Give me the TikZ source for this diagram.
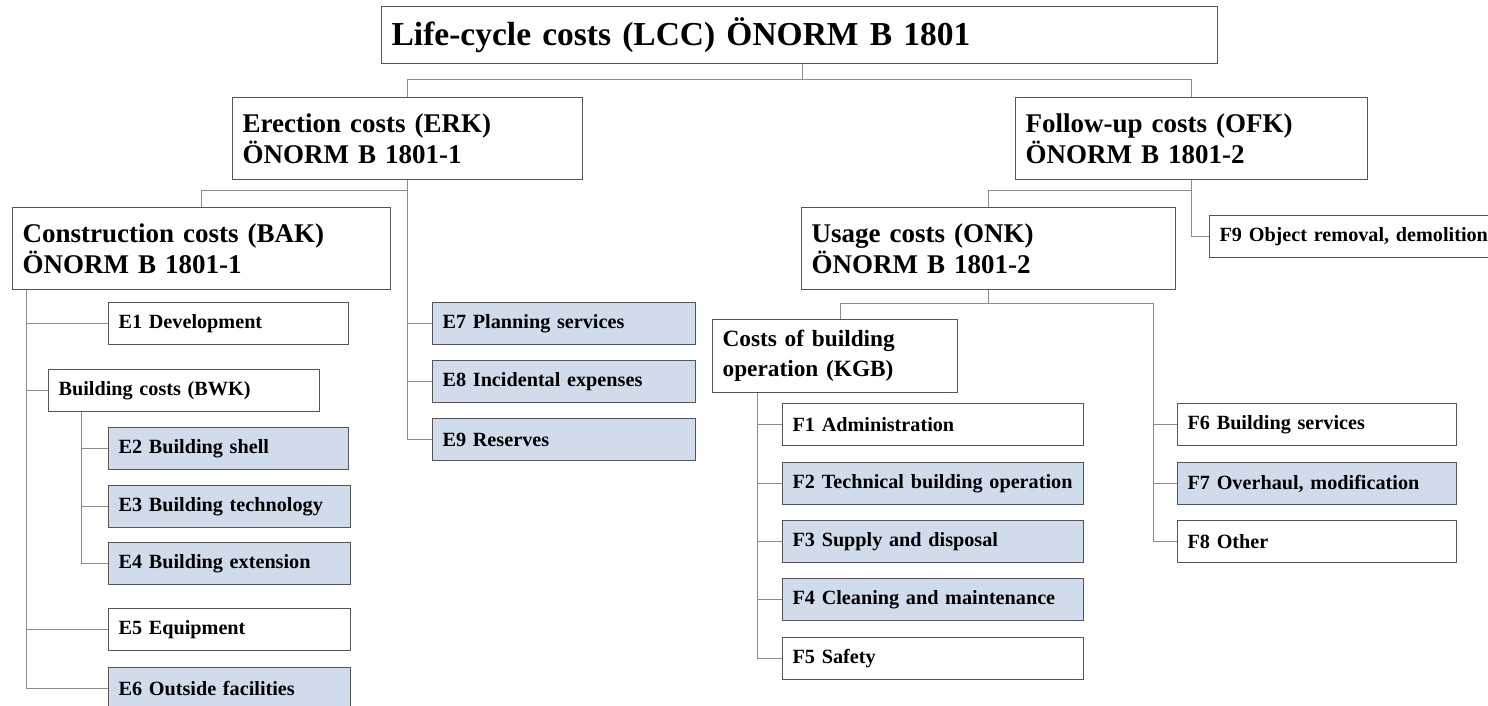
\documentclass[tikz,border=0pt]{standalone}
\usepackage{fontspec}
\setmainfont{Liberation Serif}
\usepackage{tikz}
\definecolor{boxline}{RGB}{88,84,84}
\definecolor{linkgray}{RGB}{140,140,140}
\definecolor{leafblue}{RGB}{208,220,236}
\newcommand\topfont{\fontsize{33.5}{40}\selectfont\bfseries}
\newcommand\midfont{\fontsize{27}{31}\selectfont\bfseries}
\newcommand\kgbfont{\fontsize{23.3}{30}\selectfont\bfseries}
\newcommand\leaffont{\fontsize{20.2}{24}\selectfont\bfseries}
\tikzset{
  box/.style={draw=boxline,line width=1.2pt,fill=white,anchor=north west,
              inner xsep=10pt,inner ysep=0pt,align=left},
  leaf/.style={box,font=\leaffont,minimum height=42pt},
  blue/.style={fill=leafblue},
  link/.style={draw=linkgray,line width=0.9pt}
}

\begin{document}
\begin{tikzpicture}[x=1pt,y=-1pt]
	\useasboundingbox (0,0) rectangle (1488,706);
	%TOP
	\node[box,font=\topfont,text width=816pt,minimum height=57pt] (lcc) at (381,6) {Life-cycle costs (LCC) ÖNORM B 1801};
	%
	\node[box,font=\midfont,text width=330pt,minimum height=82pt] (erk) at (232,97) {Erection costs (ERK)\\ÖNORM B 1801-1};
	\node[box,font=\midfont,text width=332pt,minimum height=82pt] (ofk) at (1015,97) {Follow-up costs (OFK)\\ÖNORM B 1801-2};
	
	%ERECTION SIDE
	\node[box,font=\midfont,text width=358pt,minimum height=82pt] (bak) at (12,207) {Construction costs (BAK)\\ÖNORM B 1801-1};
	\node[leaf,text width=220pt] (e1) at (108,302) {E1 Development};
	\node[leaf,text width=251pt] (bwk) at (48,369) {Building costs (BWK)};
	\node[leaf,blue,text width=220pt] (e2) at (108,427) {E2 Building shell};
	\node[leaf,blue,text width=222pt] (e3) at (108,485) {E3 Building technology};
	\node[leaf,blue,text width=222pt] (e4) at (108,542) {E4 Building extension};
	\node[leaf,text width=222pt] (e5) at (108,608) {E5 Equipment};
	\node[leaf,blue,text width=222pt] (e6) at (108,667) {E6 Outside facilities};
	%
	\node[leaf,blue,text width=243pt] (e7) at (432,302) {E7 Planning services};
	\node[leaf,blue,text width=243pt] (e8) at (432,360) {E8 Incidental expenses};
	\node[leaf,blue,text width=243pt] (e9) at (432,418) {E9 Reserves};
	
	%FOLLOW-UP SIDE
	\node[box,font=\midfont,text width=354pt,minimum height=82pt] (onk) at (801,207) {Usage costs (ONK)\\ÖNORM B 1801-2};
	\node[leaf,text width=290pt] (f9) at (1209,215) {F9 Object removal, demolition};
	\node[box,font=\kgbfont,text width=225pt,minimum height=73pt] (kgb) at (712,319) {Costs of building\\operation (KGB)};
	%
	\node[leaf,text width=281pt] (f1) at (782,403) {F1 Administration};
	\node[leaf,blue,text width=281pt] (f2) at (782,462) {F2 Technical building operation};
	\node[leaf,blue,text width=281pt] (f3) at (782,520) {F3 Supply and disposal};
	\node[leaf,blue,text width=281pt] (f4) at (782,578) {F4 Cleaning and maintenance};
	\node[leaf,text width=281pt] (f5) at (782,637) {F5 Safety};
	%
	\node[leaf,text width=259pt] (f6) at (1177,403) {F6 Building services};
	\node[leaf,blue,text width=259pt] (f7) at (1177,462) {F7 Overhaul, modification};
	\node[leaf,text width=259pt] (f8) at (1177,520) {F8 Other};
	
	%LINKS
	\draw[link] ([xshift=3pt]lcc.south) -- ++(0,15) -| (erk.north);
	\draw[link] ([xshift=3pt]lcc.south) -- ++(0,15) -| (ofk.north);
	%
	\draw[link] (erk.south) -- ++(0,10) -| (bak.north);
	\draw[link] (erk.south) |- (e7.west);
	\draw[link] (erk.south) |- (e8.west);
	\draw[link] (erk.south) |- (e9.west);
	%
	\draw[link] ([xshift=14pt]bak.south west) |- (e1.west);
	\draw[link] ([xshift=14pt]bak.south west) |- (bwk.west);
	\draw[link] ([xshift=14pt]bak.south west) |- (e5.west);
	\draw[link] ([xshift=14pt]bak.south west) |- (e6.west);
	\draw[link] ([xshift=33pt]bwk.south west) |- (e2.west);
	\draw[link] ([xshift=33pt]bwk.south west) |- (e3.west);
	\draw[link] ([xshift=33pt]bwk.south west) |- (e4.west);
	%
	\draw[link] (ofk.south) -- ++(0,10) -| (onk.north);
	\draw[link] (ofk.south) |- (f9.west);
	\draw[link] (onk.south) -- ++(0,13) -| ([xshift=5pt]kgb.north);
	\draw[link] (onk.south) -- ++(0,13) -| ([xshift=-24pt]f8.west) -- (f8.west);
	\draw[link] ([xshift=-24pt]f6.west) -- (f6.west);
	\draw[link] ([xshift=-24pt]f7.west) -- (f7.west);
	%
	\draw[link] ([xshift=45pt]kgb.south west) |- (f1.west);
	\draw[link] ([xshift=45pt]kgb.south west) |- (f2.west);
	\draw[link] ([xshift=45pt]kgb.south west) |- (f3.west);
	\draw[link] ([xshift=45pt]kgb.south west) |- (f4.west);
	\draw[link] ([xshift=45pt]kgb.south west) |- (f5.west);
\end{tikzpicture}
\end{document}
